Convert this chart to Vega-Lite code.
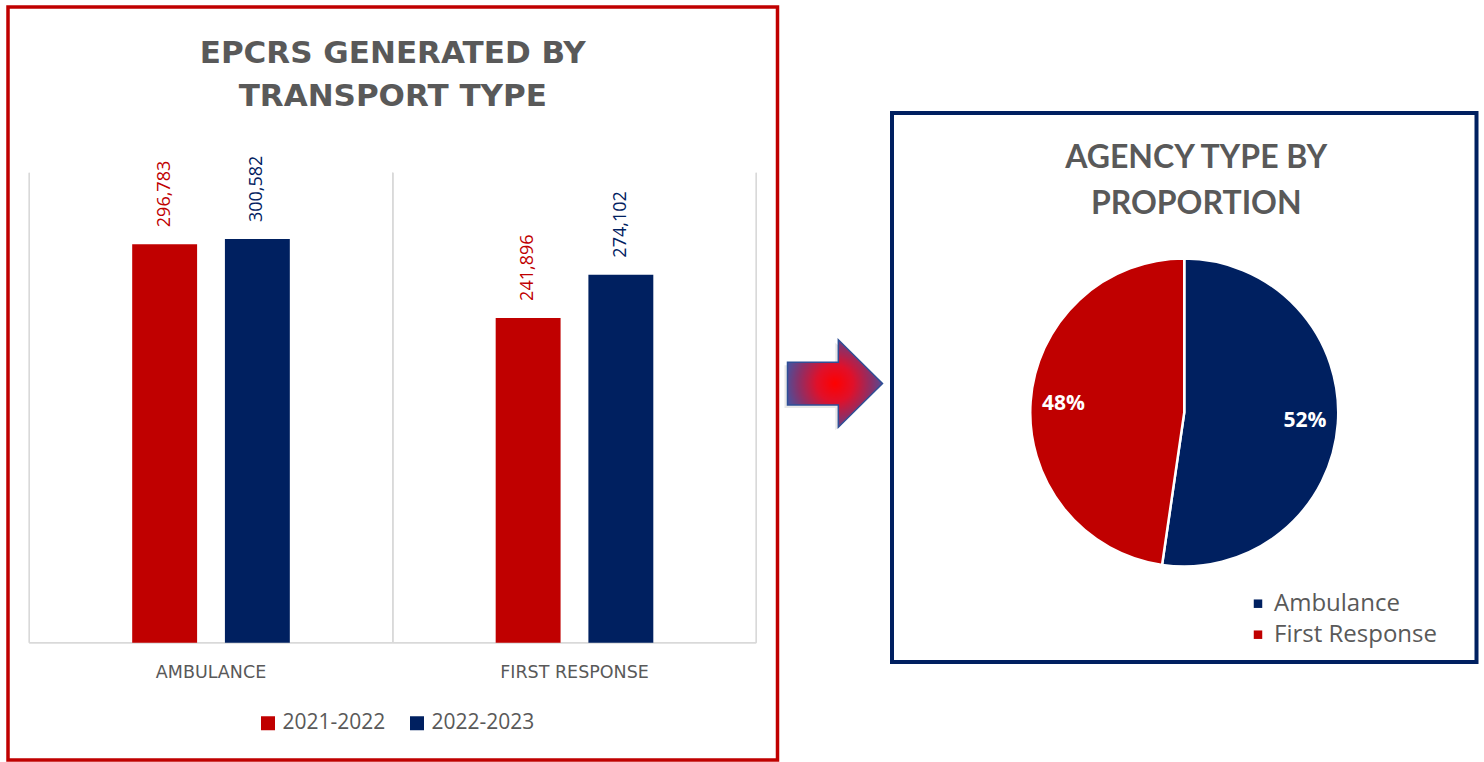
{
  "$schema": "https://vega.github.io/schema/vega-lite/v6.json",
  "background": "white",
  "padding": {"left": 6, "top": 5, "right": 0, "bottom": 0},
  "spacing": 7,
  "bounds": "flush",
  "resolve": {"scale": {"color": "independent"}},
  "config": {"font": "Open Sans", "view": {"stroke": null}},
  "hconcat": [
    {
      "width": 769.5,
      "height": 753,
      "view": {"stroke": "#c00000", "strokeWidth": 3.5},
      "title": {"text": ["EPCRS GENERATED BY", "TRANSPORT TYPE"], "font": "DejaVu Sans", "fontSize": 31, "fontWeight": "bold", "color": "#595959", "lineHeight": 43, "offset": -105.5, "anchor": "middle"},
      "data": {"values": [
        {"transport": "AMBULANCE", "year": "2021-2022", "epcrs": 296783},
        {"transport": "AMBULANCE", "year": "2022-2023", "epcrs": 300582},
        {"transport": "FIRST RESPONSE", "year": "2021-2022", "epcrs": 241896},
        {"transport": "FIRST RESPONSE", "year": "2022-2023", "epcrs": 274102}
      ]},
      "layer": [
        {
          "mark": {"type": "rule", "color": "#d9d9d9", "strokeWidth": 1.3},
          "encoding": {
            "x": {"field": "transport", "type": "nominal", "bandPosition": 0, "scale": {"type": "band", "paddingInner": 0, "paddingOuter": 0.0585}, "axis": {"title": null, "orient": "bottom", "offset": -117.3, "domain": false, "ticks": false, "tickSize": 0, "grid": false, "labelFont": "DejaVu Sans", "labelFontSize": 17.5, "labelColor": "#595959", "labelPadding": 21, "labelAngle": 0}},
            "y": {"datum": 0, "type": "quantitative", "scale": {"domain": [-87300, 473400], "nice": false, "zero": false}, "axis": null},
            "y2": {"datum": 350000}
          }
        },
        {
          "mark": {"type": "rule", "color": "#d9d9d9", "strokeWidth": 1.3},
          "encoding": {
            "x": {"field": "transport", "type": "nominal", "bandPosition": 1, "scale": {"type": "band", "paddingInner": 0, "paddingOuter": 0.0585}, "axis": {"title": null, "orient": "bottom", "offset": -117.3, "domain": false, "ticks": false, "tickSize": 0, "grid": false, "labelFont": "DejaVu Sans", "labelFontSize": 17.5, "labelColor": "#595959", "labelPadding": 21, "labelAngle": 0}},
            "y": {"datum": 0, "type": "quantitative", "scale": {"domain": [-87300, 473400], "nice": false, "zero": false}, "axis": null},
            "y2": {"datum": 350000}
          }
        },
        {
          "mark": {"type": "rect", "fill": "transparent", "stroke": "#d9d9d9", "strokeWidth": 1.3},
          "encoding": {
            "x": {"field": "transport", "type": "nominal", "scale": {"type": "band", "paddingInner": 0, "paddingOuter": 0.0585}, "axis": {"title": null, "orient": "bottom", "offset": -117.3, "domain": false, "ticks": false, "tickSize": 0, "grid": false, "labelFont": "DejaVu Sans", "labelFontSize": 17.5, "labelColor": "#595959", "labelPadding": 21, "labelAngle": 0}},
            "y": {"datum": 0, "type": "quantitative", "scale": {"domain": [-87300, 473400], "nice": false, "zero": false}, "axis": null},
            "y2": {"datum": 0}
          }
        },
        {
          "mark": {"type": "bar"},
          "encoding": {
            "x": {"field": "transport", "type": "nominal", "scale": {"type": "band", "paddingInner": 0, "paddingOuter": 0.0585}, "axis": {"title": null, "orient": "bottom", "offset": -117.3, "domain": false, "ticks": false, "tickSize": 0, "grid": false, "labelFont": "DejaVu Sans", "labelFontSize": 17.5, "labelColor": "#595959", "labelPadding": 21, "labelAngle": 0}},
            "xOffset": {"field": "year", "type": "nominal", "scale": {"domain": ["_l", "2021-2022", "2022-2023", "_r"], "paddingInner": 0.3, "paddingOuter": 0.11}},
            "y": {"field": "epcrs", "type": "quantitative", "scale": {"domain": [-87300, 473400], "nice": false, "zero": false}, "axis": null},
            "color": {"field": "year", "type": "nominal", "scale": {"domain": ["2021-2022", "2022-2023"], "range": ["#c00000", "#002060"]},
              "legend": {"title": null, "orient": "none", "legendX": 249.5, "legendY": 705.5, "direction": "horizontal", "symbolType": "square", "symbolSize": 196, "symbolStrokeWidth": 0, "symbolOpacity": 1, "labelFont": "Open Sans", "labelFontSize": 21, "labelColor": "#595959", "labelOffset": 4, "columnPadding": 21, "padding": 0}}
          }
        },
        {
          "mark": {"type": "text", "angle": 270, "align": "left", "baseline": "middle", "dx": 17, "fontSize": 18, "font": "Open Sans"},
          "encoding": {
            "x": {"field": "transport", "type": "nominal", "scale": {"type": "band", "paddingInner": 0, "paddingOuter": 0.0585}, "axis": {"title": null, "orient": "bottom", "offset": -117.3, "domain": false, "ticks": false, "tickSize": 0, "grid": false, "labelFont": "DejaVu Sans", "labelFontSize": 17.5, "labelColor": "#595959", "labelPadding": 21, "labelAngle": 0}},
            "xOffset": {"field": "year", "type": "nominal", "scale": {"domain": ["_l", "2021-2022", "2022-2023", "_r"], "paddingInner": 0.3, "paddingOuter": 0.11}},
            "y": {"field": "epcrs", "type": "quantitative", "scale": {"domain": [-87300, 473400], "nice": false, "zero": false}, "axis": null},
            "text": {"field": "epcrs", "type": "quantitative", "format": ","},
            "color": {"field": "year", "type": "nominal", "scale": {"domain": ["2021-2022", "2022-2023"], "range": ["#c00000", "#002060"]},
              "legend": {"title": null, "orient": "none", "legendX": 249.5, "legendY": 705.5, "direction": "horizontal", "symbolType": "square", "symbolSize": 196, "symbolStrokeWidth": 0, "symbolOpacity": 1, "labelFont": "Open Sans", "labelFontSize": 21, "labelColor": "#595959", "labelOffset": 4, "columnPadding": 21, "padding": 0}}
          }
        }
      ]
    },
    {
      "width": 100,
      "height": 753,
      "data": {"values": [{"shape": "arrow"}]},
      "layer": [
        {
          "mark": {"type": "point", "shape": "M -1 -0.45 L 0.07 -0.45 L 0.07 -0.92 L 1 0 L 0.07 0.92 L 0.07 0.45 L -1 0.45 Z", "size": 9025, "filled": true, "fill": "#7f7f7f", "opacity": 0.18, "strokeWidth": 0, "xOffset": -3, "yOffset": 3},
          "encoding": {}
        },
        {
          "mark": {"type": "point", "shape": "M -1 -0.45 L 0.07 -0.45 L 0.07 -0.92 L 1 0 L 0.07 0.92 L 0.07 0.45 L -1 0.45 Z", "size": 9025, "filled": true, "opacity": 1,
            "fill": {"gradient": "radial", "x1": 0.5, "y1": 0.5, "r1": 0, "x2": 0.5, "y2": 0.5, "r2": 0.55, "stops": [{"offset": 0, "color": "#ff0000"}, {"offset": 0.35, "color": "#e0102a"}, {"offset": 0.7, "color": "#8a3068"}, {"offset": 1, "color": "#3f55a5"}]},
            "stroke": "#2f4f96", "strokeWidth": 1.5},
          "encoding": {}
        }
      ]
    },
    {
      "spacing": 10,
      "bounds": "flush",
      "vconcat": [
        {
          "width": 584.5,
          "height": 95.7,
          "data": {"values": [{"spacer": "top"}]},
          "mark": {"type": "point", "opacity": 0, "size": 1},
          "encoding": {}
        },
        {
          "width": 584.5,
          "height": 549,
          "view": {"stroke": "#002060", "strokeWidth": 4},
          "title": {"text": ["AGENCY TYPE BY", "PROPORTION"], "font": "Lato", "fontSize": 32, "fontWeight": "bold", "color": "#595959", "lineHeight": 45.7, "offset": -108, "anchor": "middle", "dx": 12},
          "data": {"values": [
            {"agency": "Ambulance", "share": 0.523},
            {"agency": "First Response", "share": 0.477}
          ]},
          "layer": [
            {
              "mark": {"type": "arc", "radius": 154, "stroke": "white", "strokeWidth": 2.5, "yOffset": 25},
              "encoding": {
                "theta": {"field": "share", "type": "quantitative", "stack": true},
                "order": {"field": "agency", "type": "ordinal", "sort": "ascending"},
                "color": {"field": "agency", "type": "nominal", "scale": {"domain": ["Ambulance", "First Response"], "range": ["#002060", "#c00000"]},
                  "legend": {"title": null, "orient": "none", "legendX": 354, "legendY": 584.7, "direction": "vertical", "symbolType": "square", "symbolSize": 72, "symbolStrokeWidth": 0, "symbolOpacity": 1, "labelFont": "Open Sans", "labelFontSize": 24, "labelColor": "#595959", "labelOffset": 4, "labelLimit": 400, "rowPadding": 7, "padding": 0}}
              }
            },
            {
              "mark": {"type": "text", "radius": 121, "yOffset": 25, "fill": "white", "fontSize": 21, "fontWeight": "bold", "font": "Open Sans"},
              "encoding": {
                "theta": {"field": "share", "type": "quantitative", "stack": true},
                "order": {"field": "agency", "type": "ordinal", "sort": "ascending"},
                "detail": {"field": "agency", "type": "nominal"},
                "text": {"field": "share", "type": "quantitative", "format": ".0%"}
              }
            }
          ]
        }
      ]
    }
  ]
}
